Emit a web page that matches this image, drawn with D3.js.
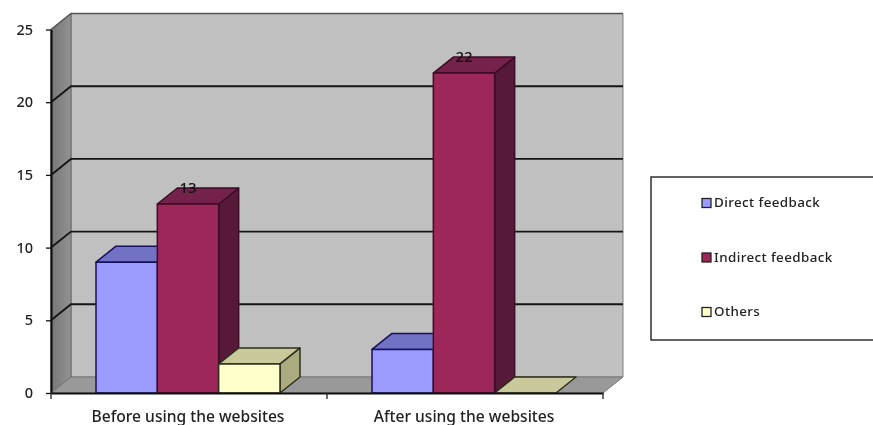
<!DOCTYPE html>
<html><head><meta charset="utf-8">
<script src="https://cdn.jsdelivr.net/npm/d3@7/dist/d3.min.js"></script>
<style>html,body{margin:0;padding:0;background:#fff;overflow:hidden}svg{display:block;filter:blur(0.5px)}text{font-family:"Noto Sans",sans-serif;fill:#1c1c1c}</style>
</head><body><svg id="c" width="873" height="425"></svg>
<script>
const categories = ["Before using the websites", "After using the websites"];
const seriesNames = ["Direct feedback", "Indirect feedback", "Others"];
const directFeedback = [9, 3];
const indirectFeedback = [13, 22];
const others = [2, 0];
const seriesValues = [directFeedback, indirectFeedback, others];
const dataLabels = [[null, null], [13, 22], [null, null]];
const yTicks = [0, 5, 10, 15, 20, 25];
const frontColors = ["#9b9bff", "#9c2758", "#ffffcc"];
const topColors = ["#7272c4", "#74224c", "#c9c99b"];
const sideColors = ["#5c5ca0", "#561a38", "#abab80"];
const edgeColors = ["#14105e", "#3c0d26", "#2e2e1c"];

const svg = d3.select("#c");
const dx = 20, dy = -16;
const yScale = d3.scaleLinear().domain([0, 25]).range([393, 29.5]);
const x0 = d3.scaleBand().domain(categories).range([51, 603]);
const x1 = d3.scaleBand().domain(seriesNames).range([-1, x0.bandwidth() - 1]).paddingInner(0).paddingOuter(0.75);
const poly = pts => "M" + pts.map(p => p.join(",")).join("L") + "Z";

const defs = svg.append("defs");
const grad = defs.append("linearGradient").attr("id", "side");
grad.append("stop").attr("offset", 0).attr("stop-color", "#777");
grad.append("stop").attr("offset", 1).attr("stop-color", "#929292");

const xLeft = 51, xRight = 603, yTop = yScale(25), yBot = yScale(0);
// walls
svg.append("path").attr("d", poly([[xLeft+dx, yTop+dy],[xRight+dx, yTop+dy],[xRight+dx, yBot+dy],[xLeft+dx, yBot+dy]])).attr("fill", "#c0c0c0").attr("stroke", "#808080");
svg.append("path").attr("d", poly([[xLeft, yTop],[xLeft+dx, yTop+dy],[xLeft+dx, yBot+dy],[xLeft, yBot]])).attr("fill", "url(#side)").attr("stroke", "#666");
svg.append("path").attr("d", poly([[xLeft, yBot],[xLeft+dx, yBot+dy],[xRight+dx, yBot+dy],[xRight, yBot]])).attr("fill", "#999").attr("stroke", "#777");

// gridlines
yTicks.filter(t => t > 0 && t < 25).forEach(t => {
  svg.append("path").attr("d", `M${xLeft},${yScale(t)}L${xLeft+dx},${yScale(t)+dy}L${xRight+dx},${yScale(t)+dy}`)
    .attr("fill", "none").attr("stroke", "#151515").attr("stroke-width", 1.9);
});
svg.append("path").attr("d", `M${xLeft},${yTop}L${xLeft+dx},${yTop+dy}L${xRight+dx},${yTop+dy}`).attr("fill", "none").attr("stroke", "#555").attr("stroke-width", 1.4);

// bars
categories.forEach((c, ci) => {
  seriesNames.forEach((s, si) => {
    const v = seriesValues[si][ci];
    const l = x0(c) + x1(s), r = l + x1.bandwidth(), t = yScale(v), b = yScale(0);
    const add = (pts, fill) => svg.append("path").attr("d", poly(pts)).attr("fill", fill)
      .attr("stroke", edgeColors[si]).attr("stroke-width", 1.5).attr("stroke-linejoin", "round");
    if (v > 0) add([[r, b],[r+dx, b+dy],[r+dx, t+dy],[r, t]], sideColors[si]);
    add([[l, t],[l+dx, t+dy],[r+dx, t+dy],[r, t]], topColors[si]);
    if (v > 0) add([[l, b],[l, t],[r, t],[r, b]], frontColors[si]);
  });
});

// axes
const yAxis = d3.axisLeft(yScale).tickValues(yTicks).tickSize(5).tickSizeOuter(0).tickPadding(13);
const gy = svg.append("g").attr("transform", `translate(${xLeft},0)`).call(yAxis);
gy.select(".domain").attr("stroke", "#111").attr("stroke-width", 2.2);
gy.selectAll(".tick line").attr("stroke", "#111").attr("stroke-width", 1.3);
gy.selectAll("text").attr("font-size", 14.5).style("font-family", '"Noto Sans",sans-serif').style("font-weight", 500).style("fill", "#222");

const gx = svg.append("g").attr("transform", `translate(0,${yBot})`).call(d3.axisBottom(x0).tickSize(0).tickPadding(18));
gx.select(".domain").attr("stroke", "#111").attr("stroke-width", 2);
gx.selectAll("text").attr("font-size", 15.6).style("font-family", '"Noto Sans",sans-serif').style("font-weight", 500).style("fill", "#222");
gx.selectAll(".tick text").attr("dx", -1);
[xLeft, xLeft + x0.step(), xRight].forEach(p => svg.append("line").attr("x1", p).attr("x2", p).attr("y1", yBot).attr("y2", yBot + 6).attr("stroke", "#222").attr("stroke-width", 1.3));

// data labels
seriesNames.forEach((s, si) => categories.forEach((c, ci) => {
  const d = dataLabels[si][ci];
  if (d === null) return;
  svg.append("text").attr("x", x0(c) + x1(s) + x1.bandwidth() / 2).attr("y", yScale(seriesValues[si][ci]) - 11)
    .attr("text-anchor", "middle").attr("font-size", 15).style("font-weight", 500).style("fill", "#111").text(d);
}));

// legend
svg.append("rect").attr("x", 651).attr("y", 177).attr("width", 240).attr("height", 163).attr("fill", "#fff").attr("stroke", "#222").attr("stroke-width", 1.4);
const legY = d3.scalePoint().domain(seriesNames).range([203, 312]);
seriesNames.forEach((s, i) => {
  svg.append("rect").attr("x", 702).attr("y", legY(s) - 4.5).attr("width", 9).attr("height", 9)
    .attr("fill", frontColors[i]).attr("stroke", "#222").attr("stroke-width", 1.3);
  svg.append("text").attr("x", 714).attr("y", legY(s) + 4).attr("font-size", 13.4).style("font-weight", 500).attr("letter-spacing", 0.4).style("fill", "#222").text(s);
});
</script></body></html>
